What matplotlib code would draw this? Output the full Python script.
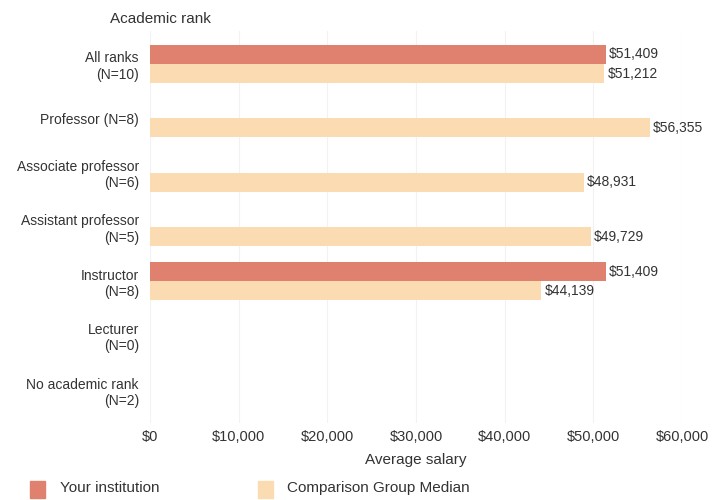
import numpy as np
import matplotlib
matplotlib.use('Agg')
import matplotlib.pyplot as plt
from matplotlib.patches import Rectangle

plt.rcParams['font.family'] = ['Liberation Sans', 'DejaVu Sans']

#%% Data
ranks = ['All ranks\n(N=10)', 'Professor (N=8)', 'Associate professor\n(N=6)',
         'Assistant professor\n(N=5)', 'Instructor\n(N=8)', 'Lecturer\n(N=0)',
         'No academic rank\n(N=2)']
your_inst = [51409, np.nan, np.nan, np.nan, 51409, np.nan, np.nan]
comp_median = [51212, 56355, 48931, 49729, 44139, np.nan, np.nan]
xticks = [0, 10000, 20000, 30000, 40000, 50000, 60000]

red = '#e0806e'
peach = '#fbdcb2'
txt = '#333333'

#%% Plot
fig = plt.figure(figsize=(7.22, 5), dpi=100)
ax = fig.add_axes([0.2078, 0.1548, 0.737, 0.7824])

y = np.arange(len(ranks))
h = 0.35
ax.barh(y - h / 2, your_inst, height=h, color=red)
ax.barh(y + h / 2, comp_median, height=h, color=peach)

# value labels next to bars
for i, v in enumerate(your_inst):
    if not np.isnan(v):
        ax.text(v + 350, i - h / 2, '${:,.0f}'.format(v), va='center', ha='left',
                fontsize=10, color=txt)
for i, v in enumerate(comp_median):
    if not np.isnan(v):
        ax.text(v + 350, i + h / 2, '${:,.0f}'.format(v), va='center', ha='left',
                fontsize=10, color=txt)

ax.set_xlim(0, 60000)
ax.set_ylim(6.6, -0.6)
ax.set_yticks(y)
ax.set_yticklabels(ranks, fontsize=10, color=txt, ha='right')
ax.set_xticks(xticks)
ax.set_xticklabels(['${:,.0f}'.format(t) for t in xticks], fontsize=10.5, color=txt)
ax.tick_params(length=0, pad=8)
ax.tick_params(axis='x', pad=5)
ax.set_xlabel('Average salary', fontsize=11, color=txt, labelpad=7)
ax.xaxis.grid(True, color='#f2f2f2', linewidth=0.8)
ax.set_axisbelow(True)
for s in ax.spines.values():
    s.set_visible(False)

fig.text(0.222, 0.962, 'Academic rank', fontsize=11, color=txt, ha='center', va='center')

# legend drawn by hand
fig.add_artist(Rectangle((30 / 722, 1 - 498 / 500), 15 / 722, 17 / 500,
                         transform=fig.transFigure, color=red))
fig.text(60 / 722, 1 - 488 / 500, 'Your institution', fontsize=11, color=txt, va='center')
fig.add_artist(Rectangle((258 / 722, 1 - 498 / 500), 15 / 722, 17 / 500,
                         transform=fig.transFigure, color=peach))
fig.text(287 / 722, 1 - 488 / 500, 'Comparison Group Median', fontsize=11, color=txt, va='center')

plt.savefig('out.png', dpi=100)
